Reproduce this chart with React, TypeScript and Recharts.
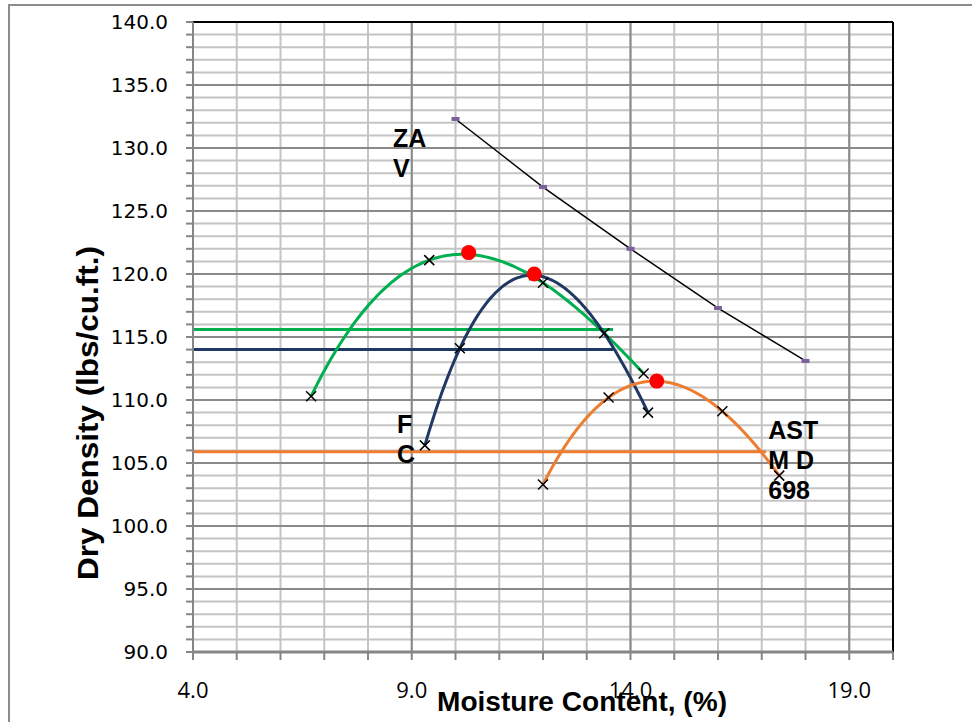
import {
  ComposedChart,
  Line,
  XAxis,
  YAxis,
  CartesianGrid,
  ReferenceLine,
  Label
} from "recharts"

// zero air voids line
const zavMoisture = [10.0, 12.0, 14.0, 16.0, 18.0]
const zavDensity = [132.3, 126.9, 122.0, 117.3, 113.1]

// green proctor curve
const greenMoisture = [6.7, 9.4, 12.0, 13.4, 14.3]
const greenDensity = [110.3, 121.1, 119.3, 115.3, 112.1]

// navy proctor curve
const navyMoisture = [9.3, 10.1, 11.8, 14.4]
const navyDensity = [106.4, 114.1, 119.9, 109.0]

// orange proctor curve
const orangeMoisture = [12.0, 13.5, 16.1, 17.4]
const orangeDensity = [103.3, 110.2, 109.1, 104.0]

// max dry density points
const maxMoisture = [10.3, 11.8, 14.6]
const maxDensity = [121.7, 120.0, 111.5]

// horizontal reference levels
const greenLevel = { from: 4.0, to: 13.6, density: 115.6 }
const navyLevel = { from: 4.0, to: 13.6, density: 114.0 }
const orangeLevel = { from: 4.0, to: 17.1, density: 105.9 }

const xLabelTicks = [4, 9, 14, 19]
const yLabelTicks = [90, 95, 100, 105, 110, 115, 120, 125, 130, 135, 140]
const xTicks = Array.from({ length: 17 }, (_, i) => 4 + i)
const yTicks = Array.from({ length: 51 }, (_, i) => 90 + i)

const notes = [
  { x: 8.57, y: 130.1, lines: ["ZA", "V"] },
  { x: 8.66, y: 107.4, lines: ["F", "C"] },
  { x: 17.15, y: 106.9, lines: ["AST", "M D", "698"] }
]

const toPts = (xs: number[], ys: number[]) => xs.map((x, i) => ({ x, y: ys[i] }))
const levelPts = (l: { from: number; to: number; density: number }) => [
  { x: l.from, y: l.density },
  { x: l.to, y: l.density }
]

// cubic trendline (least squares) drawn over the points' range
const cubicTrend = (context: any) => {
  let pts: number[][] = []
  return {
    areaStart() {},
    areaEnd() {},
    lineStart() {
      pts = []
    },
    lineEnd() {
      const n = pts.length
      if (!n) return
      if (n < 2) {
        context.moveTo(pts[0][0], pts[0][1])
        return
      }
      const deg = Math.min(3, n - 1)
      const x0 = pts[0][0]
      const span = pts[n - 1][0] - x0 || 1
      const m = deg + 1
      const A: number[][] = Array.from({ length: m }, () => new Array(m + 1).fill(0))
      pts.forEach(([px, py]) => {
        const t = (px - x0) / span
        for (let j = 0; j < m; j++) {
          for (let k = 0; k < m; k++) A[j][k] += Math.pow(t, j + k)
          A[j][m] += py * Math.pow(t, j)
        }
      })
      for (let c = 0; c < m; c++) {
        let p = c
        for (let r = c + 1; r < m; r++) if (Math.abs(A[r][c]) > Math.abs(A[p][c])) p = r
        const tmp = A[c]
        A[c] = A[p]
        A[p] = tmp
        for (let r = 0; r < m; r++) {
          if (r === c) continue
          const f = A[r][c] / A[c][c]
          for (let k = c; k <= m; k++) A[r][k] -= f * A[c][k]
        }
      }
      const coef = A.map((row, i) => row[m] / row[i])
      const steps = 120
      for (let s = 0; s <= steps; s++) {
        const t = s / steps
        let y = 0
        for (let k = 0; k < m; k++) y += coef[k] * Math.pow(t, k)
        const x = x0 + t * span
        if (s === 0) context.moveTo(x, y)
        else context.lineTo(x, y)
      }
    },
    point(x: number, y: number) {
      pts.push([x, y])
    }
  }
}

const Cross = (props: any) => {
  const { cx, cy, index } = props
  if (cx == null || cy == null) return <g key={index} />
  return (
    <g key={index}>
      <line x1={cx - 5} y1={cy - 5} x2={cx + 5} y2={cy + 5} stroke="#000" strokeWidth={1.5} />
      <line x1={cx - 5} y1={cy + 5} x2={cx + 5} y2={cy - 5} stroke="#000" strokeWidth={1.5} />
    </g>
  )
}

const ZavDot = (props: any) => {
  const { cx, cy, index } = props
  if (cx == null || cy == null) return <g key={index} />
  return <rect key={index} x={cx - 4} y={cy - 2} width={8} height={4} fill="#7b5f9e" />
}

const NoteText = (props: any) => {
  const { cx, cy, index, payload } = props
  if (cx == null || cy == null) return <g key={index} />
  return (
    <text
      key={index}
      x={cx}
      y={cy}
      fontFamily="Liberation Sans, Arial, sans-serif"
      fontWeight="bold"
      fontSize={25}
      fill="#000"
    >
      {payload.lines.map((t: string, i: number) => (
        <tspan key={i} x={cx} dy={i === 0 ? 0 : 30}>
          {t}
        </tspan>
      ))}
    </text>
  )
}

export default function App() {
  const green = toPts(greenMoisture, greenDensity)
  const navy = toPts(navyMoisture, navyDensity)
  const orange = toPts(orangeMoisture, orangeDensity)
  const zav = toPts(zavMoisture, zavDensity)
  const maxes = toPts(maxMoisture, maxDensity)

  return (
    <div
      style={{
        position: "absolute",
        left: 0,
        top: 0,
        width: 972,
        height: 722,
        overflow: "hidden",
        background: "#fff"
      }}
    >
      <div
        style={{
          position: "absolute",
          left: 8,
          top: 4,
          width: 1000,
          height: 800,
          border: "2px solid #8c8c8c"
        }}
      />
      <div style={{ position: "absolute", left: 0, top: 0 }}>
        <ComposedChart
          width={972}
          height={722}
          margin={{ top: 22, right: 79, bottom: 0, left: 0 }}
        >
          <CartesianGrid stroke="#c4c4c4" strokeWidth={2} />
          <XAxis
            type="number"
            dataKey="x"
            domain={[4, 20]}
            ticks={xTicks}
            interval={0}
            height={70}
            tickSize={8}
            tickMargin={22}
            tickFormatter={(v: number) => (xLabelTicks.includes(v) ? v.toFixed(1) : "")}
            tick={{ fill: "#000", fontSize: 22, fontFamily: "Open Sans, sans-serif" }}
            axisLine={{ stroke: "#868686", strokeWidth: 3 }}
            tickLine={{ stroke: "#868686", strokeWidth: 2 }}
          >
            <Label
              content={() => (
                <text
                  x={582}
                  y={711}
                  textAnchor="middle"
                  fontFamily="Liberation Sans Narrow, Liberation Sans, sans-serif"
                  fontWeight="bold"
                  fontSize={28}
                  textLength={290}
                  lengthAdjust="spacingAndGlyphs"
                  fill="#000"
                >
                  Moisture Content, (%)
                </text>
              )}
            />
          </XAxis>
          <YAxis
            type="number"
            domain={[90, 140]}
            ticks={yTicks}
            interval={0}
            width={193}
            tickSize={7}
            tickMargin={18}
            tickFormatter={(v: number) => (yLabelTicks.includes(v) ? v.toFixed(1) : "")}
            tick={{ fill: "#000", fontSize: 20, fontFamily: "DejaVu Sans, sans-serif" }}
            axisLine={{ stroke: "#868686", strokeWidth: 2 }}
            tickLine={{ stroke: "#868686", strokeWidth: 2 }}
          >
            <Label
              content={() => (
                <text
                  x={98}
                  y={413}
                  transform="rotate(-90 98 413)"
                  textAnchor="middle"
                  fontFamily="Liberation Sans Narrow, Liberation Sans, sans-serif"
                  fontWeight="bold"
                  fontSize={29}
                  textLength={334}
                  lengthAdjust="spacingAndGlyphs"
                  fill="#000"
                >
                  Dry Density (lbs/cu.ft.)
                </text>
              )}
            />
          </YAxis>

          {xLabelTicks
            .filter((v) => v > 4)
            .map((v) => (
              <ReferenceLine key={"vx" + v} x={v} stroke="#8a8a8a" strokeWidth={2} />
            ))}
          {yLabelTicks
            .filter((v) => v > 90 && v < 140)
            .map((v) => (
              <ReferenceLine key={"hy" + v} y={v} stroke="#8a8a8a" strokeWidth={2} />
            ))}
          <ReferenceLine y={140} stroke="#000" strokeWidth={2} />
          <ReferenceLine x={20} stroke="#000" strokeWidth={2} />

          <Line
            data={levelPts(greenLevel)}
            dataKey="y"
            stroke="#00b050"
            strokeWidth={3}
            dot={false}
            isAnimationActive={false}
          />
          <Line
            data={levelPts(navyLevel)}
            dataKey="y"
            stroke="#203864"
            strokeWidth={3}
            dot={false}
            isAnimationActive={false}
          />
          <Line
            data={levelPts(orangeLevel)}
            dataKey="y"
            stroke="#ed7d31"
            strokeWidth={3}
            dot={false}
            isAnimationActive={false}
          />

          <Line
            data={zav}
            dataKey="y"
            type="linear"
            stroke="#000"
            strokeWidth={1.5}
            dot={ZavDot}
            isAnimationActive={false}
          />
          <Line
            data={green}
            dataKey="y"
            type={cubicTrend as any}
            stroke="#00b050"
            strokeWidth={3}
            dot={Cross}
            isAnimationActive={false}
          />
          <Line
            data={navy}
            dataKey="y"
            type={cubicTrend as any}
            stroke="#203864"
            strokeWidth={3}
            dot={Cross}
            isAnimationActive={false}
          />
          <Line
            data={orange}
            dataKey="y"
            type={cubicTrend as any}
            stroke="#ed7d31"
            strokeWidth={3}
            dot={Cross}
            isAnimationActive={false}
          />
          <Line
            data={maxes}
            dataKey="y"
            stroke="none"
            dot={{ r: 7.5, fill: "#ff0000", stroke: "none" }}
            isAnimationActive={false}
          />
          <Line
            data={notes}
            dataKey="y"
            stroke="none"
            dot={NoteText}
            isAnimationActive={false}
          />
        </ComposedChart>
      </div>
    </div>
  )
}
